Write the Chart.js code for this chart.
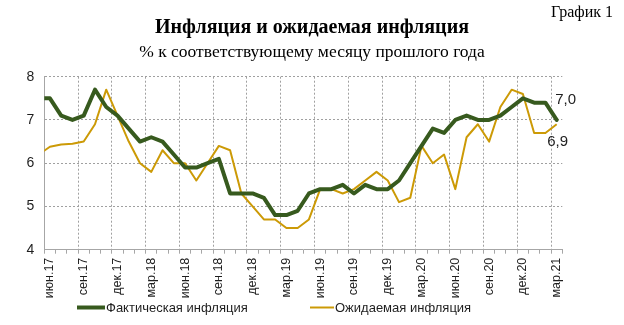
<!DOCTYPE html>
<html lang="ru">
<head>
<meta charset="utf-8">
<title>Инфляция и ожидаемая инфляция</title>
<script src="https://cdn.jsdelivr.net/npm/chart.js@4.4.1/dist/chart.umd.min.js"></script>
<style>
  html, body { margin: 0; padding: 0; background: #fff; }
</style>
</head>
<body>
<canvas id="chart" width="624" height="325"></canvas>
<script>
// first month (май.17) sits left of the plot and is only seen as a clipped stub
const months = [
  'май.17', 'июн.17', 'июл.17', 'авг.17', 'сен.17', 'окт.17', 'ноя.17', 'дек.17',
  'янв.18', 'фев.18', 'мар.18', 'апр.18', 'май.18', 'июн.18', 'июл.18', 'авг.18', 'сен.18', 'окт.18', 'ноя.18', 'дек.18',
  'янв.19', 'фев.19', 'мар.19', 'апр.19', 'май.19', 'июн.19', 'июл.19', 'авг.19', 'сен.19', 'окт.19', 'ноя.19', 'дек.19',
  'янв.20', 'фев.20', 'мар.20', 'апр.20', 'май.20', 'июн.20', 'июл.20', 'авг.20', 'сен.20', 'окт.20', 'ноя.20', 'дек.20',
  'янв.21', 'фев.21', 'мар.21'
];
const actual = [
  7.5, 7.5, 7.1, 7.0, 7.1, 7.7, 7.3, 7.1,
  6.8, 6.5, 6.6, 6.5, 6.2, 5.9, 5.9, 6.0, 6.1, 5.3, 5.3, 5.3,
  5.2, 4.8, 4.8, 4.9, 5.3, 5.4, 5.4, 5.5, 5.3, 5.5, 5.4, 5.4,
  5.6, 6.0, 6.4, 6.8, 6.7, 7.0, 7.1, 7.0, 7.0, 7.1, 7.3, 7.5,
  7.4, 7.4, 7.0
];
const expected = [
  6.2, 6.38, 6.43, 6.45, 6.5, 6.9, 7.7, 7.1,
  6.5, 6.0, 5.8, 6.3, 6.0, 6.0, 5.6, 6.0, 6.4, 6.3, 5.3, 5.0,
  4.7, 4.7, 4.5, 4.5, 4.7, 5.4, 5.4, 5.3, 5.4, 5.6, 5.8, 5.6,
  5.1, 5.2, 6.4, 6.0, 6.2, 5.4, 6.6, 6.9, 6.5, 7.3, 7.7, 7.6,
  6.7, 6.7, 6.9
];
const seriesNames = ['Фактическая инфляция', 'Ожидаемая инфляция'];
const yTicks = [4, 5, 6, 7, 8];
const chartNo = 'График 1';
const titleText = 'Инфляция и ожидаемая инфляция';
const subtitleText = '% к соответствующему месяцу прошлого года';

const GREEN = '#375a1e';
const GOLD = '#cc9a06';
const AXIS = '#a6a6a6';
const GRID = '#a0a0a0';
const TEXT = '#1e1e1e';
const SANS = '"Liberation Sans", Arial, sans-serif';
const SERIF = '"Liberation Serif", "Times New Roman", serif';

const fmt = v => v.toFixed(1).replace('.', ',');

// extra texts: chart number, end labels, legend
const extras = {
  id: 'extras',
  afterDraw(chart) {
    const ctx = chart.ctx;
    ctx.save();
    ctx.fillStyle = '#000';
    ctx.font = '16px ' + SERIF;
    ctx.textAlign = 'right';
    ctx.textBaseline = 'middle';
    ctx.fillText(chartNo, 613, 13);

    // last values
    ctx.fillStyle = TEXT;
    ctx.font = '15px ' + SANS;
    ctx.textAlign = 'center';
    const p0 = chart.getDatasetMeta(0).data.at(-1);
    const p1 = chart.getDatasetMeta(1).data.at(-1);
    ctx.fillText(fmt(actual.at(-1)), p0.x + 9, p0.y - 20);
    ctx.fillText(fmt(expected.at(-1)), p1.x + 1, p1.y + 18);

    // legend
    const items = [[77, 105], [310, 334]];
    ctx.font = '13px ' + SANS;
    ctx.textAlign = 'left';
    chart.data.datasets.forEach((ds, i) => {
      const [x0, x1] = items[i];
      ctx.strokeStyle = ds.borderColor;
      ctx.lineWidth = ds.borderWidth;
      ctx.beginPath();
      ctx.moveTo(x0, 307.5);
      ctx.lineTo(x1, 307.5);
      ctx.stroke();
      ctx.fillText(ds.label, x1 + 1, 308);
    });
    ctx.restore();
  }
};

new Chart(document.getElementById('chart'), {
  type: 'line',
  data: {
    labels: months,
    datasets: [{
      label: seriesNames[0],
      data: actual,
      borderColor: GREEN,
      backgroundColor: GREEN,
      borderWidth: 4,
      pointRadius: 0,
      tension: 0,
      borderJoinStyle: 'round',
      borderCapStyle: 'round'
    }, {
      label: seriesNames[1],
      data: expected,
      borderColor: GOLD,
      backgroundColor: GOLD,
      borderWidth: 2,
      pointRadius: 0,
      tension: 0,
      borderJoinStyle: 'round'
    }]
  },
  options: {
    responsive: false,
    animation: false,
    events: [],
    layout: { padding: { left: 0, right: 0, top: 16, bottom: 25.3 } },
    plugins: {
      legend: { display: false },
      tooltip: { enabled: false },
      title: {
        display: true,
        text: titleText,
        color: '#000',
        font: { family: SERIF, size: 20, weight: 'bold' },
        padding: { top: 0, bottom: 1.5 }
      },
      subtitle: {
        display: true,
        text: subtitleText,
        color: '#000',
        font: { family: SERIF, size: 17.5 },
        padding: { top: 0, bottom: 14.2 }
      }
    },
    scales: {
      x: {
        type: 'category',
        min: 'июн.17',
        offset: true,
        afterFit: s => { s.height = 50; s.paddingLeft = 0; s.paddingRight = 61.7; },
        grid: {
          offset: true,
          color: c => c.index % 3 === 0 ? GRID : 'rgba(0,0,0,0)',
          tickColor: AXIS,
          tickLength: 4
        },
        border: { color: AXIS, dash: [2, 2] },
        ticks: {
          autoSkip: false,
          minRotation: 90,
          maxRotation: 90,
          padding: 4,
          color: TEXT,
          font: { family: SANS, size: 12.5 },
          callback: function (v, i) { return i % 3 === 0 ? this.getLabelForValue(v) : ''; }
        }
      },
      y: {
        min: yTicks[0],
        max: yTicks[yTicks.length - 1],
        afterFit: s => { s.width = 44.3; },
        afterBuildTicks: s => { s.ticks = yTicks.map(v => ({ value: v })); },
        grid: {
          drawTicks: false,
          color: c => c.tick && c.tick.value === yTicks[0] ? 'rgba(0,0,0,0)' : GRID
        },
        border: { color: AXIS, dash: [2, 2] },
        ticks: {
          padding: 10,
          color: TEXT,
          font: { family: SANS, size: 14 }
        }
      }
    }
  },
  plugins: [extras]
});
</script>
</body>
</html>
